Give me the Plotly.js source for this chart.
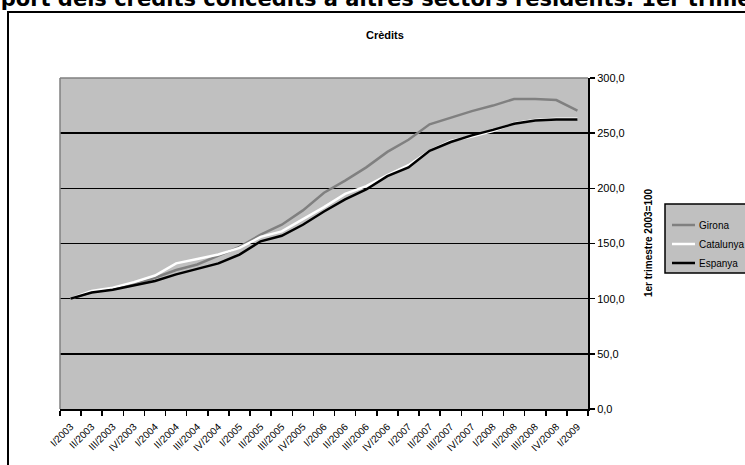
<!DOCTYPE html>
<html>
<head>
<meta charset="utf-8">
<script src="https://cdn.plot.ly/plotly-3.0.1.min.js"></script>
<style>
  html, body { margin: 0; padding: 0; background: #ffffff; overflow: hidden; }
  #frame { position: absolute; left: 7px; top: 11px; width: 800px; height: 600px; border: 2px solid #000; box-sizing: border-box; }
  #chart { position: absolute; left: 0; top: 0; width: 745px; height: 465px; }
</style>
</head>
<body>
<div id="frame"></div>
<div id="chart"></div>
<script>
const categories = [
  "I/2003","II/2003","III/2003","IV/2003",
  "I/2004","II/2004","III/2004","IV/2004",
  "I/2005","II/2005","III/2005","IV/2005",
  "I/2006","II/2006","III/2006","IV/2006",
  "I/2007","II/2007","III/2007","IV/2007",
  "I/2008","II/2008","III/2008","IV/2008",
  "I/2009"
];
const girona    = [100, 106, 109, 113, 119, 126, 131, 139, 147, 158, 167, 180, 196, 207, 219, 233, 244, 258, 264, 270, 275, 281, 281, 280, 270.5];
const catalunya = [100, 107, 110, 115, 121, 132, 136, 140, 146, 156, 161, 172, 183, 195, 202, 212, 221, 234, 243, 247, 252, 259, 262, 263, 263];
const espanya   = [100, 105.5, 108, 112, 116, 122, 127, 132, 140, 152, 157, 167, 179, 190, 199, 211, 219, 234, 242, 248, 253, 258.5, 261.5, 262.5, 262.5];
const seriesNames = ["Girona", "Catalunya", "Espanya"];
const yTitle = "1er trimestre 2003=100";
const chartTitle = "Crèdits";
const pageTitle = "Import dels crèdits concedits a altres sectors residents. 1er trimestre 2003=100";

const seriesValues = [girona, catalunya, espanya];
const seriesColors = ["#808080", "#ffffff", "#000000"];
const FONT = "Arial, Liberation Sans, sans-serif";

const traces = seriesValues.map((vals, i) => ({
  x: categories, y: vals, name: seriesNames[i], type: "scatter", mode: "lines",
  line: {color: seriesColors[i], width: 2.5}, showlegend: false
}));

// plot area in pixels: x 60..588, y 78..409
const PX = v => (v - 60) / 528;
const PY = v => (409 - v) / 331;

const shapes = [
  {type: "line", xref: "paper", yref: "paper", x0: 0, x1: 1, y0: 1, y1: 1, line: {color: "#808080", width: 1.5}},
  {type: "line", xref: "paper", yref: "paper", x0: 0, x1: 0, y0: 0, y1: 1, line: {color: "#808080", width: 1.5}},
  // legend box
  {type: "rect", xref: "paper", yref: "paper", x0: PX(665), x1: PX(760), y0: PY(273), y1: PY(204),
   fillcolor: "#c0c0c0", line: {color: "#000", width: 1.5}}
];
const annotations = [
  {text: "<b>" + pageTitle + "</b>", xref: "paper", yref: "paper", x: PX(-31), y: PY(-0.5),
   xanchor: "left", yanchor: "middle", showarrow: false,
   font: {family: "DejaVu Sans, Verdana, sans-serif", size: 21, color: "#000"}},
  {text: "<b>" + chartTitle + "</b>", xref: "paper", yref: "paper", x: PX(385), y: PY(35),
   xanchor: "center", yanchor: "middle", showarrow: false,
   font: {family: FONT, size: 11, color: "#000"}},
  {text: "<b>" + yTitle + "</b>", xref: "paper", yref: "paper", x: PX(648), y: PY(243),
   xanchor: "center", yanchor: "middle", textangle: -90, showarrow: false,
   font: {family: FONT, size: 10, color: "#000"}}
];
const legendY = [225, 244, 263];
seriesNames.forEach((n, i) => {
  shapes.push({type: "line", xref: "paper", yref: "paper", x0: PX(672), x1: PX(695),
    y0: PY(legendY[i]), y1: PY(legendY[i]), line: {color: seriesColors[i], width: 2.5}});
  annotations.push({text: n, xref: "paper", yref: "paper", x: PX(697), y: PY(legendY[i]),
    xanchor: "left", yanchor: "middle", showarrow: false,
    font: {family: FONT, size: 10, color: "#000"}});
});

const layout = {
  width: 745, height: 465,
  margin: {l: 60, r: 157, t: 78, b: 56},
  paper_bgcolor: "rgba(0,0,0,0)",
  plot_bgcolor: "#c0c0c0",
  separators: ",.",
  font: {family: FONT, size: 10, color: "#000"},
  showlegend: false,
  xaxis: {
    type: "category",
    tickangle: -45,
    tickson: "boundaries",
    ticks: "outside", ticklen: 5, tickwidth: 1.5, tickcolor: "#000",
    ticklabelstandoff: 6,
    showline: true, linecolor: "#000", linewidth: 2,
    showgrid: false, zeroline: false,
    tickfont: {family: FONT, size: 10, color: "#000"},
    range: [-0.5, categories.length - 0.5]
  },
  yaxis: {
    side: "right",
    range: [0, 300], dtick: 50, tick0: 0,
    tickformat: ".1f",
    ticks: "outside", ticklen: 5, tickwidth: 1.5, tickcolor: "#000",
    showline: true, linecolor: "#000", linewidth: 2,
    showgrid: true, gridcolor: "#000", gridwidth: 1.5,
    zeroline: false,
    tickfont: {family: FONT, size: 11, color: "#000"}
  },
  shapes: shapes,
  annotations: annotations
};

Plotly.newPlot("chart", traces, layout, {displayModeBar: false, staticPlot: true});
</script>
</body>
</html>
